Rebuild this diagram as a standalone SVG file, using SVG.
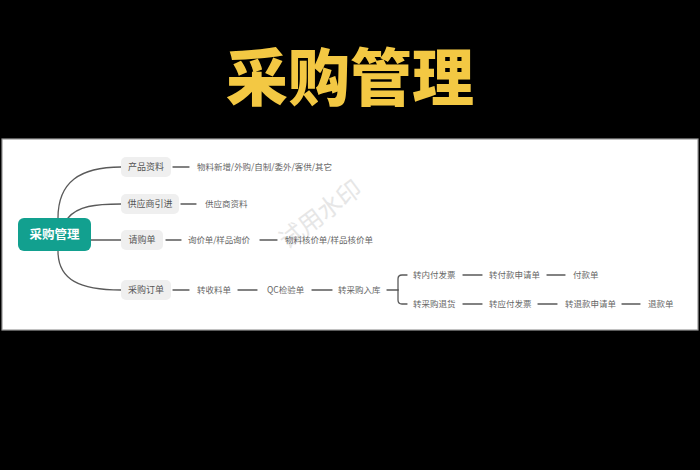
<svg xmlns="http://www.w3.org/2000/svg" width="700" height="470" viewBox="0 0 700 470">
<style>
.cn{font-family:"Noto Sans CJK SC","Noto Sans",sans-serif}
.lf{font-size:8.5px;fill:#666}
.bx{fill:#efefef}
.bt{font-size:9px;fill:#555;text-anchor:middle}
.ln{fill:none;stroke:#5a5a5a;stroke-width:1.3;stroke-linecap:round}
</style>
<rect x="0" y="0" width="700" height="470" fill="#000"/>
<text class="cn" x="350" y="101" text-anchor="middle" font-size="62" font-weight="900" fill="#f3c843">采购管理</text>
<rect x="2" y="139" width="696" height="191" fill="#fff" stroke="#9a9a9a" stroke-width="1.2"/>
<text class="cn" x="0" y="0" font-size="24" fill="#e6e6e6" transform="translate(287,250) rotate(-37)">试用水印</text>
<g id="connectors">
<path class="ln" d="M58,218 C58,182 80,167 121,167"/>
<path class="ln" d="M68,218 C78,206 95,204 121,204"/>
<path class="ln" d="M91,240 H121"/>
<path class="ln" d="M58,251 C58,280 80,290 121,290"/>
<path class="ln" d="M173,167 H189"/>
<path class="ln" d="M181,204 H196"/>
<path class="ln" d="M166,240 H181"/>
<path class="ln" d="M260,240 H277"/>
<path class="ln" d="M173,290 H189"/>
<path class="ln" d="M238,290 H257"/>
<path class="ln" d="M312,290 H332"/>
<path class="ln" d="M387,290 H398"/>
<path class="ln" d="M398,290 V279 Q398,275 402,275 H407"/>
<path class="ln" d="M398,290 V300 Q398,304 402,304 H407"/>
<path class="ln" d="M463,275 H482"/>
<path class="ln" d="M547,275 H565"/>
<path class="ln" d="M463,304 H482"/>
<path class="ln" d="M538,304 H557"/>
<path class="ln" d="M622,304 H640"/>
</g>
<g id="root">
<rect x="18" y="218" width="73" height="33" rx="6" fill="#12a08f"/>
<text class="cn" x="54.5" y="239" text-anchor="middle" font-size="12.5" font-weight="bold" fill="#fff">采购管理</text>
</g>
<g id="n-chanpin">
<rect class="bx" x="121" y="157" width="50" height="20" rx="5"/>
<text class="cn bt" x="146" y="170.2">产品资料</text>
</g>
<g id="n-gongying">
<rect class="bx" x="121" y="194" width="58" height="20" rx="5"/>
<text class="cn bt" x="150" y="207.2">供应商引进</text>
</g>
<g id="n-qinggou">
<rect class="bx" x="121" y="230" width="42" height="20" rx="5"/>
<text class="cn bt" x="142" y="243.2">请购单</text>
</g>
<g id="n-caigou">
<rect class="bx" x="121" y="280" width="50" height="20" rx="5"/>
<text class="cn bt" x="146" y="293.2">采购订单</text>
</g>
<g id="leaf-1"><text class="cn lf" x="197" y="170" textLength="135" lengthAdjust="spacing">物料新增/外购/自制/委外/客供/其它</text></g>
<g id="leaf-2"><text class="cn lf" x="205" y="207">供应商资料</text></g>
<g id="leaf-3"><text class="cn lf" x="188" y="243" textLength="62" lengthAdjust="spacing">询价单/样品询价</text></g>
<g id="leaf-4"><text class="cn lf" x="285" y="243" textLength="88" lengthAdjust="spacing">物料核价单/样品核价单</text></g>
<g id="leaf-5"><text class="cn lf" x="197" y="293">转收料单</text></g>
<g id="leaf-6"><text class="cn lf" x="267" y="293">QC检验单</text></g>
<g id="leaf-7"><text class="cn lf" x="338" y="293">转采购入库</text></g>
<g id="leaf-8"><text class="cn lf" x="413" y="278">转内付发票</text></g>
<g id="leaf-9"><text class="cn lf" x="489" y="278">转付款申请单</text></g>
<g id="leaf-10"><text class="cn lf" x="573" y="278">付款单</text></g>
<g id="leaf-11"><text class="cn lf" x="413" y="307">转采购退货</text></g>
<g id="leaf-12"><text class="cn lf" x="489" y="307">转应付发票</text></g>
<g id="leaf-13"><text class="cn lf" x="565" y="307">转退款申请单</text></g>
<g id="leaf-14"><text class="cn lf" x="648" y="307">退款单</text></g>
</svg>
